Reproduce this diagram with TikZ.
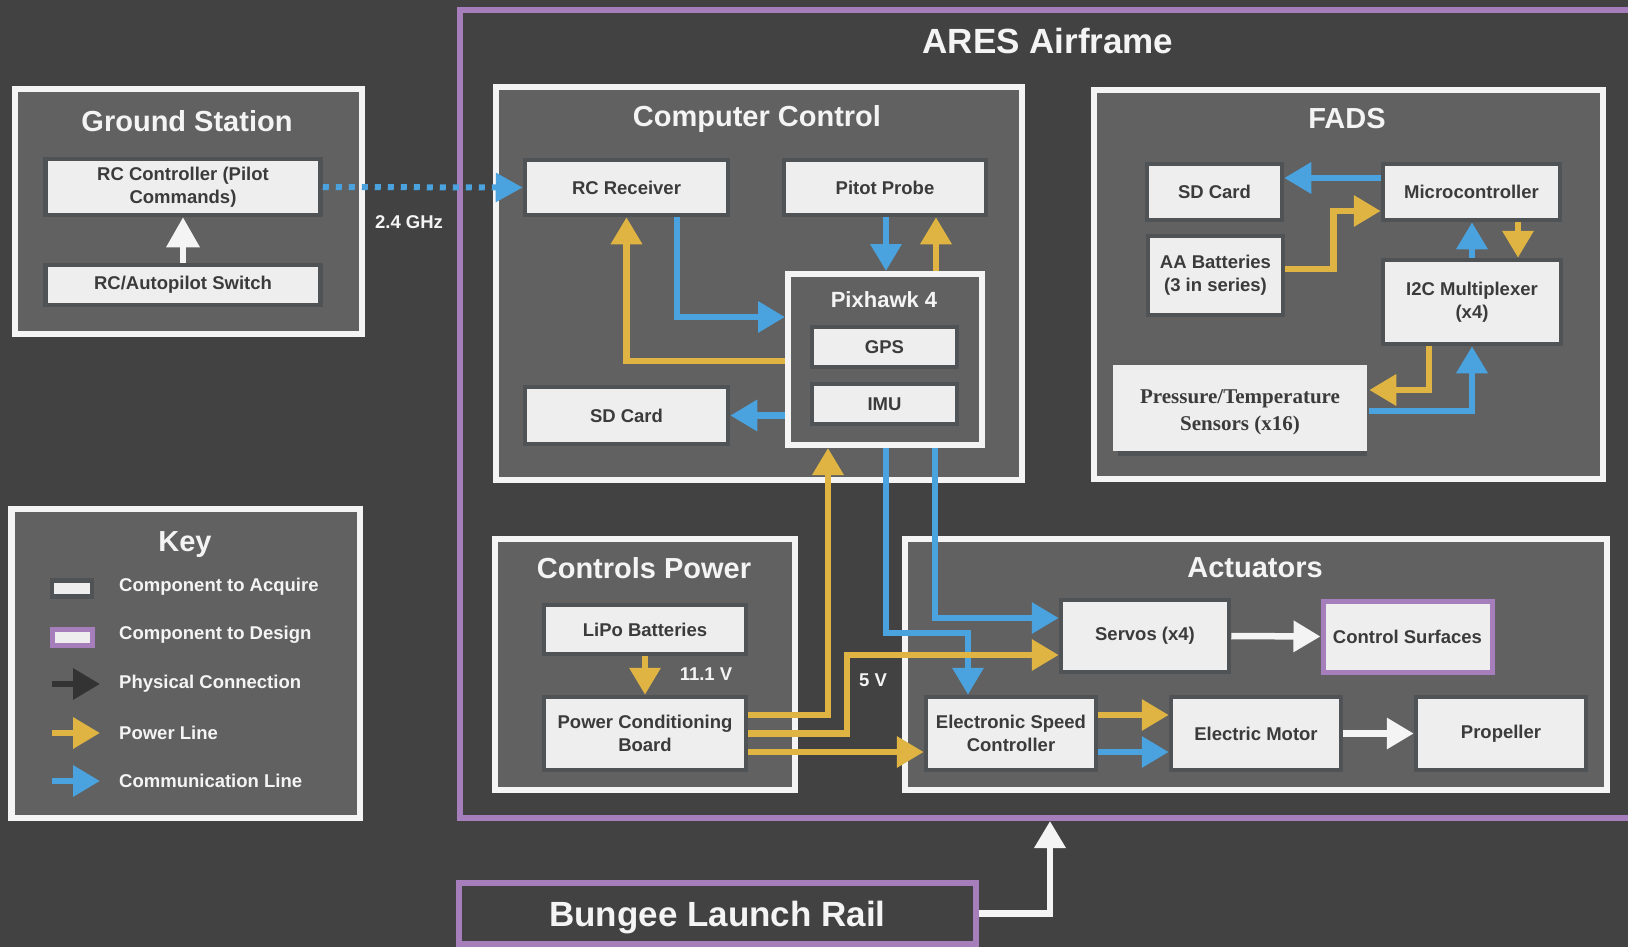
\documentclass[tikz,border=0pt]{standalone}
\usepackage{fontspec}
\setmainfont{Liberation Sans}
\newfontfamily\serifbf{Liberation Serif}
\usetikzlibrary{arrows.meta}
\definecolor{bgc}{HTML}{424242}
\definecolor{panelc}{HTML}{616161}
\definecolor{compf}{HTML}{EEEEEE}
\definecolor{compb}{HTML}{505356}
\definecolor{textd}{HTML}{3B3B3B}
\definecolor{whc}{HTML}{F4F4F4}
\definecolor{purp}{HTML}{A67EBC}
\definecolor{bluec}{HTML}{4AA2DE}
\definecolor{yelc}{HTML}{DFB443}
\definecolor{physc}{HTML}{333333}
\newcommand{\compfont}{\bfseries\fontsize{18.5}{23}\selectfont}
\newcommand{\ttlfont}{\bfseries\fontsize{29}{34}\selectfont}
\newcommand{\bigttlfont}{\bfseries\fontsize{35}{40}\selectfont}
\begin{document}
\begin{tikzpicture}[x=1pt,y=-1pt,
 box/.style 2 args={minimum width=#1pt, minimum height=#2pt},
 frame/.style={draw=whc, line width=6.5pt, fill=panelc, inner sep=0pt},
 comp/.style={draw=compb, line width=4.5pt, fill=compf, text=textd, inner sep=0pt, align=center, font=\compfont},
 design/.style={draw=purp, line width=5pt, fill=compf, text=textd, inner sep=0pt, align=center, font=\compfont},
 ttl/.style={text=whc, inner sep=0pt, text depth=0pt, font=\ttlfont},
 lbl/.style={text=whc, inner sep=0pt, font=\compfont},
 arr/.style={line width=6.5pt, -{Triangle[length=27pt,width=30pt]}},
 comm/.style={arr, draw=bluec},
 pow/.style={arr, draw=yelc},
 phys/.style={arr, draw=whc},
]
\useasboundingbox (0,0) rectangle (1628,947);
\fill[bgc] (0,0) rectangle (1628,947);

% airframe and bungee
\node[draw=purp, line width=6pt, box={1180}{808}] (ares) at (1050,414) {};
\node[ttl, font=\bigttlfont] (tares) at (1048,41) {ARES Airframe};
\node[draw=purp, line width=6pt, fill=bgc, box={517}{61}, text=whc, text depth=0pt, font=\bigttlfont] (bung) at (717.5,913.5) {Bungee Launch Rail};

% panels
\node[frame, box={347}{245}] (gs) at (188.5,211.5) {};
\node[frame, box={526}{393}] (cc) at (759,283.5) {};
\node[frame, box={509}{389}] (fads) at (1348.5,284.5) {};
\node[frame, box={348.5}{309}] (key) at (185.75,663.5) {};
\node[frame, box={300}{251}] (cp) at (645,664.5) {};
\node[frame, box={702}{251}] (act) at (1256,664.5) {};

\node[ttl] (tgs) at (187,121) {Ground Station};
\node[ttl] (tcc) at (757,116) {Computer Control};
\node[ttl] (tfads) at (1347,118) {FADS};
\node[ttl] (tkey) at (185,542) {Key};
\node[ttl] (tcp) at (644,568) {Controls Power};
\node[ttl] (tact) at (1255,568) {Actuators};

% ground station
\node[comp, box={275}{56}] (rcc) at (183,187) {RC Controller (Pilot\\Commands)};
\node[comp, box={275}{40}] (rcsw) at (183,285) {RC/Autopilot Switch};

% computer control
\node[comp, box={203}{55}] (rcr) at (626.5,187.5) {RC Receiver};
\node[comp, box={202}{55}] (pitot) at (885,187.5) {Pitot Probe};
\node[frame, line width=6pt, box={194}{171}] (px) at (885,359.5) {};
\node[lbl, font=\bfseries\fontsize{22}{26}\selectfont] (tpx) at (884,300) {Pixhawk 4};
\node[comp, box={145}{40}] (gps) at (884.5,347) {GPS};
\node[comp, box={145}{40}] (imu) at (884.5,404) {IMU};
\node[comp, box={203}{57}] (sdc) at (626.5,415.5) {SD Card};

% FADS
\node[comp, box={135}{56}] (sd2) at (1214.5,192) {SD Card};
\node[comp, box={177}{56}] (micro) at (1471.5,192) {Microcontroller};
\node[comp, box={135}{79}] (aa) at (1215.5,275.5) {AA Batteries\\(3 in series)};
\node[comp, box={178}{84}] (i2c) at (1472,302) {I2C Multiplexer\\(x4)};
\fill[compb] (1118,451) rectangle (1367,456);
\node[comp, draw=none, box={254}{86}] (sens) at (1240,408) {};
\node[text=textd, inner sep=0pt, align=center, font=\serifbf\bfseries\fontsize{21}{27}\selectfont] (senst) at (1240,412) {Pressure/Temperature\\Sensors (x16)};

% controls power
\node[comp, box={202}{49}] (lipo) at (645,629.5) {LiPo Batteries};
\node[comp, box={202}{73}] (pcb) at (645,733.5) {Power Conditioning\\Board};

% actuators
\node[comp, box={168}{72}] (serv) at (1145,636) {Servos (x4)};
\node[design, box={169}{71}] (cs) at (1407.5,636.5) {Control Surfaces};
\node[comp, box={170}{73}] (esc) at (1011,733.5) {Electronic Speed\\Controller};
\node[comp, box={170}{73}] (mot) at (1256,733.5) {Electric Motor};
\node[comp, box={170}{73}] (prop) at (1501,733.5) {Propeller};

% labels
\node[lbl] (l24) at (409,222) {2.4 GHz};
\node[lbl] (l111) at (706,674) {11.1 V};
\node[lbl] (l5) at (873,680) {5 V};

% key
\node[comp, line width=4.5pt, box={40}{16}] (kacq) at (72,588.5) {};
\node[design, box={40}{16}] (kdes) at (72,637.5) {};
\coordinate (kp0) at (52,684); \coordinate (kp1) at (100,684);
\coordinate (kw0) at (52,733); \coordinate (kw1) at (100,733);
\coordinate (kc0) at (52,781); \coordinate (kc1) at (100,781);
\draw[arr, draw=physc] (kp0) -- (kp1);
\draw[pow] (kw0) -- (kw1);
\draw[comm] (kc0) -- (kc1);
\node[lbl, anchor=west] (tacq) at (119,587) {Component to Acquire};
\node[lbl, anchor=west] (tdes) at (119,635) {Component to Design};
\node[lbl, anchor=west] (tphy) at (119,684) {Physical Connection};
\node[lbl, anchor=west] (tpow) at (119,733) {Power Line};
\node[lbl, anchor=west] (tcom) at (119,781) {Communication Line};

% connectors: ground station
\draw[phys, -{Triangle[length=30pt,width=32pt]}] (rcsw.north) -- (rcc.south);
\draw[draw=bluec, line width=6pt, dash pattern=on 6pt off 7pt, -{Triangle[length=27pt,width=28pt]}] (rcc.east) -- (rcr.west);

% computer control
\draw[comm] ([xshift=50.5]rcr.south) |- ([yshift=42.5]px.west);
\draw[pow] ([yshift=-1.5]px.west) -| (rcr.south);
\draw[comm] ([xshift=1]pitot.south) -- ([xshift=1]px.north);
\draw[pow] ([xshift=51]px.north) -- ([xshift=51]pitot.south);
\draw[comm] (px.west |- sdc.east) -- (sdc.east);

% pixhawk to actuators
\coordinate (e1) at (968,633);
\draw[comm] ([xshift=1]px.south) |- (e1) -- (e1 |- esc.north);
\draw[comm] ([xshift=50]px.south) |- ([yshift=18]serv.west);

% FADS
\draw[comm] ([yshift=14]micro.west) -- ([yshift=14]sd2.east);
\draw[pow] ([yshift=6.5]aa.east) -- ++(48,0) |- ([yshift=-19]micro.west);
\draw[comm] (i2c.north) -- (i2c.north |- micro.south);
\draw[pow] ([xshift=46.5]micro.south) -- ([xshift=46.5]micro.south |- i2c.north);
\draw[pow] ([xshift=-43]i2c.south) |- ([yshift=18]sens.east);
\draw[comm] ([yshift=-3]sens.east) -| (i2c.south);

% power
\draw[pow] (lipo.south) -- (pcb.north);
\draw[pow] ([yshift=18.5]pcb.east) -| ([xshift=-57]px.south);
\draw[pow] (pcb.east) -- ++(98.75,0) |- ([yshift=-19]serv.west);
\draw[pow] ([yshift=-18.5]pcb.east) -- ([yshift=-18.5]esc.west);

% actuators
\draw[pow] ([yshift=18.5]esc.east) -- ([yshift=18.5]mot.west);
\draw[comm] ([yshift=-18.5]esc.east) -- ([yshift=-18.5]mot.west);
\draw[phys] (serv.east) -- (cs.west);
\draw[phys] (mot.east) -- (prop.west);
\draw[phys] (bung.east) -| (ares.south);
\end{tikzpicture}
\end{document}
